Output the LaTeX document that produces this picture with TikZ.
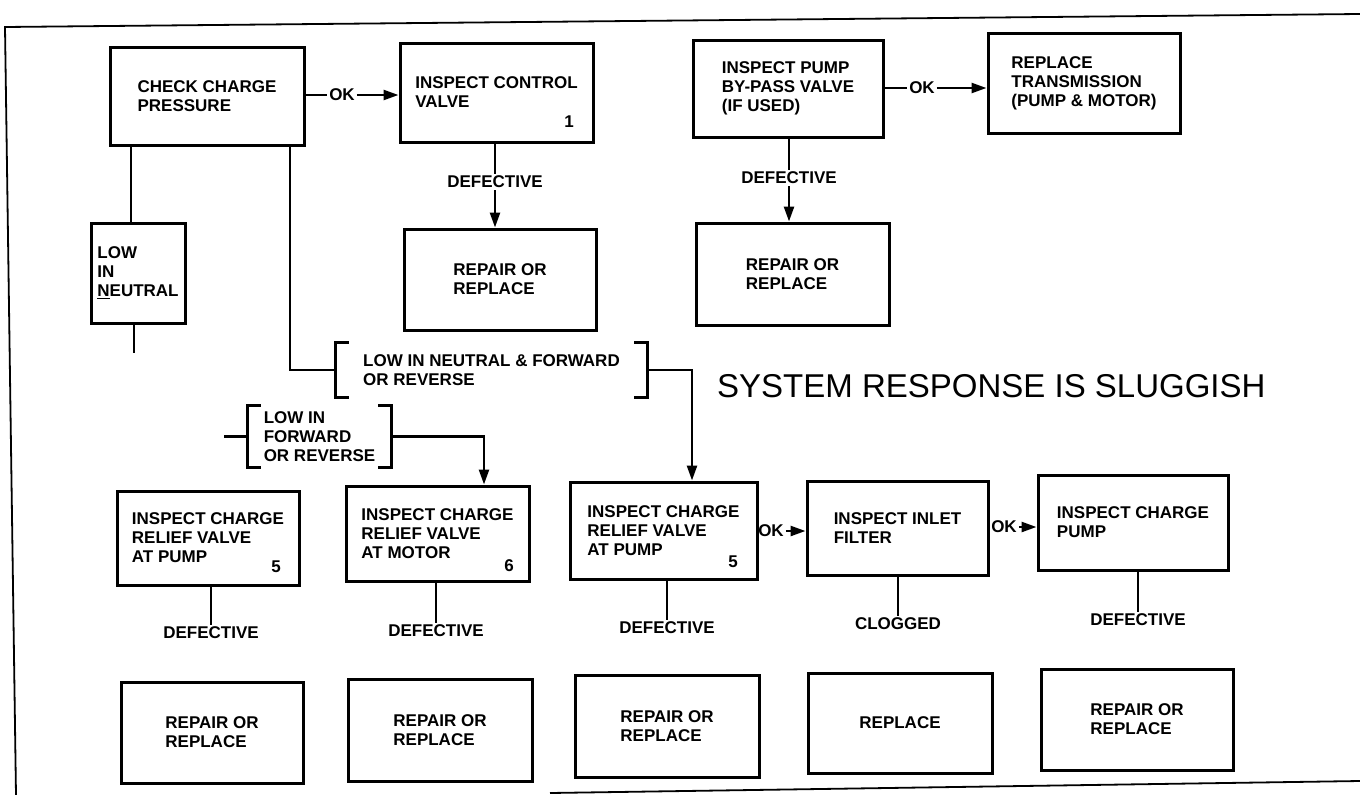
\documentclass[tikz,border=0pt]{standalone}
\usepackage{fontspec}
\setmainfont{Liberation Sans}
\usetikzlibrary{arrows.meta}

\begin{document}
\begin{tikzpicture}[x=1pt, y=-1pt,
    box/.style={draw, line width=3pt, align=left, font=\boxfont, inner sep=0pt},
    tag/.style={font=\boxfont, inner sep=2pt},
    link/.style={line width=2.5pt},
    flow/.style={link, -{Triangle[length=15pt,width=10pt]}},
    brk/.style={line width=3pt}]
    % Define fonts
    \def\boxfont{\fontsize{17}{19}\selectfont\bfseries}
    \def\titlefont{\fontsize{33}{40}\selectfont}

    % Page size
    \path[fill=white] (0,0) rectangle (1360,795);
    \useasboundingbox (0,0) rectangle (1360,795);

    % Draw frame
    \draw[line width=1.8pt] (1360,14) -- (5,27) -- (16,795);
    \draw[line width=1.8pt] (550,793) -- (1360,781);

    % Top row
    \node[box, minimum width=194, minimum height=98] (check) at (207,96) {CHECK CHARGE\\PRESSURE};
    \node[box, minimum width=193, minimum height=99] (ctrl) at (496.5,92.5) {INSPECT CONTROL\\VALVE};
    \node[tag] (n1) at (569,122) {1};
    \node[box, minimum width=192, minimum height=101] (ctrlfix) at (500,279.5) {REPAIR OR\\REPLACE};
    \node[box, minimum width=94, minimum height=100] (low) at (138,273) {LOW\\IN\\\underline{N}EUTRAL};
    \node[box, minimum width=190, minimum height=97] (bypass) at (788,88.5) {INSPECT PUMP\\BY-PASS VALVE\\(IF USED)};
    \node[box, minimum width=192, minimum height=100] (trans) at (1084,83) {REPLACE\\TRANSMISSION\\(PUMP \& MOTOR)};
    \node[box, minimum width=193, minimum height=102] (bypassfix) at (792.5,274) {REPAIR OR\\REPLACE};

    % Labels on top row
    \node[tag] (okA) at (342,95) {OK};
    \node[tag] (defA) at (495,182) {DEFECTIVE};
    \node[tag] (okB) at (922,88) {OK};
    \node[tag] (defB) at (789,178) {DEFECTIVE};

    % Bracketed conditions
    \node[tag, align=left, minimum width=311, minimum height=54] (lowboth) at (491.5,370) {LOW IN NEUTRAL \& FORWARD\\OR REVERSE};
    \node[tag, align=left, minimum width=143, minimum height=61] (lowfwd) at (319.5,436.5) {LOW IN\\FORWARD\\OR REVERSE};
    \foreach \b in {lowboth, lowfwd} {
        \draw[brk] ([xshift=13pt]\b.north west) -- (\b.north west) -- (\b.south west) -- ([xshift=13pt]\b.south west);
        \draw[brk] ([xshift=-13pt]\b.north east) -- (\b.north east) -- (\b.south east) -- ([xshift=-13pt]\b.south east);
    }

    % Title
    \node[anchor=west, font=\titlefont, inner sep=0pt] (title) at (717,386) {SYSTEM RESPONSE IS SLUGGISH};

    % Bottom row
    \node[box, minimum width=182, minimum height=94] (relpump) at (208,538) {INSPECT CHARGE\\RELIEF VALVE\\AT PUMP};
    \node[tag] (n5a) at (276,567) {5};
    \node[box, minimum width=183, minimum height=95] (relmotor) at (437.5,533.5) {INSPECT CHARGE\\RELIEF VALVE\\AT MOTOR};
    \node[tag] (n6) at (509,566) {6};
    \node[box, minimum width=187, minimum height=97] (relpumpb) at (663.5,530.5) {INSPECT CHARGE\\RELIEF VALVE\\AT PUMP};
    \node[tag] (n5b) at (733,562) {5};
    \node[box, minimum width=181, minimum height=94] (inlet) at (897.5,528) {INSPECT INLET\\FILTER};
    \node[box, minimum width=190, minimum height=95] (chpump) at (1133,522.5) {INSPECT CHARGE\\PUMP};

    % Labels on bottom row
    \node[tag] (ok1) at (771,531) {OK};
    \node[tag] (ok2) at (1004,527) {OK};
    \node[tag] (def1) at (211,633) {DEFECTIVE};
    \node[tag] (def2) at (436,631) {DEFECTIVE};
    \node[tag] (def3) at (667,628) {DEFECTIVE};
    \node[tag] (clog) at (898,624) {CLOGGED};
    \node[tag] (def4) at (1138,620) {DEFECTIVE};

    % Remedies
    \node[box, minimum width=182, minimum height=101] (fixa) at (212,732.5) {REPAIR OR\\REPLACE};
    \node[box, minimum width=184, minimum height=102] (fixb) at (440,730) {REPAIR OR\\REPLACE};
    \node[box, minimum width=184, minimum height=102] (fixc) at (667,726) {REPAIR OR\\REPLACE};
    \node[box, minimum width=184, minimum height=100] (fixd) at (900,723) {REPLACE};
    \node[box, minimum width=192, minimum height=101] (fixe) at (1137,719.5) {REPAIR OR\\REPLACE};

    % Top connectors
    \draw[link] (check.east |- okA) -- (okA.west);
    \draw[flow] (okA.east) -- (okA -| ctrl.west);
    \draw[link] (ctrl.south -| defA) -- (defA.north);
    \draw[flow] (defA.south) -- (defA |- ctrlfix.north);
    \draw[link] (bypass.east |- okB) -- (okB.west);
    \draw[flow] (okB.east) -- (okB -| trans.west);
    \draw[link] (bypass.south -| defB) -- (defB.north);
    \draw[flow] (defB.south) -- (defB |- bypassfix.north);

    % Branch lines
    \coordinate (lowx) at (131,0);
    \draw[link] (lowx |- check.south) -- (lowx |- low.north);
    \coordinate (lowend) at (134,353);
    \draw[link] (lowend |- low.south) -- (lowend);
    \coordinate (bendA) at (290,370);
    \draw[link] (bendA |- check.south) -- (bendA) -- (lowboth.west);
    \coordinate (dropA) at (692,370);
    \draw[flow] (lowboth.east) -- (dropA) -- (dropA |- relpumpb.north);
    \coordinate (dropB) at (484,436.5);
    \draw[flow] (lowfwd.east) -- (dropB) -- (dropB |- relmotor.north);
    \coordinate (tickB) at (224,436.5);
    \draw[link] (lowfwd.west) -- (tickB);

    % Bottom connectors
    \draw[flow] (ok1.east) -- (ok1 -| inlet.west);
    \draw[flow] (ok2.east) -- (ok2 -| chpump.west);
    \foreach \src/\lab in {relpump/def1, relmotor/def2, relpumpb/def3, inlet/clog, chpump/def4}
        \draw[link] (\src.south -| \lab) -- (\lab.north);

\end{tikzpicture}
\end{document}
